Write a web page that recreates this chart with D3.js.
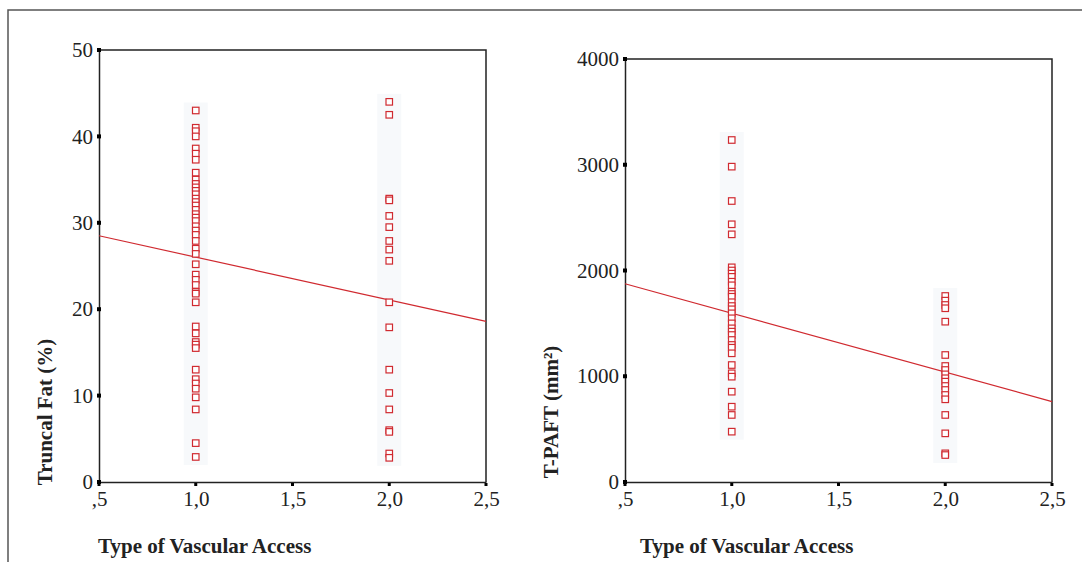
<!DOCTYPE html>
<html>
<head>
<meta charset="utf-8">
<script src="https://cdn.jsdelivr.net/npm/d3@7"></script>
<style>
  body { margin: 0; background: #fff; }
  svg text { font-family: "Liberation Serif", "DejaVu Serif", serif; }
  .tick text { font-size: 21px; fill: #222; }
  .axisTitle { font-size: 21px; font-weight: bold; fill: #222; }
</style>
</head>
<body>
<div id="chart"></div>
<script>
// x categories (type of vascular access) and tick labels
var xTicks = [0.5, 1.0, 1.5, 2.0, 2.5];
var xTickLabels = [",5", "1,0", "1,5", "2,0", "2,5"];

// left panel: truncal fat (%)
var fatTicks = [0, 10, 20, 30, 40, 50];
var fatAccess1 = [43.0, 41.0, 40.6, 40.0, 38.6, 38.0, 37.3, 35.8, 35.0, 34.5, 34.1, 33.7, 33.3,
	32.8, 32.4, 32.0, 31.5, 31.0, 30.6, 30.2, 29.6, 29.1, 28.6, 27.9, 27.0, 26.4, 25.2, 24.0,
	23.4, 22.8, 22.0, 21.8, 20.8, 18.0, 17.2, 16.2, 15.9, 15.5, 13.0, 11.9, 11.4, 10.8, 9.8,
	8.4, 4.5, 2.9];
var fatAccess2 = [44.0, 42.5, 32.8, 32.6, 30.8, 29.5, 27.9, 26.9, 25.6, 20.8, 17.9, 13.0, 10.3,
	8.4, 6.0, 5.8, 3.3, 2.8];
var fatFit = [28.5, 18.6]; // fitted value at x = 0,5 and x = 2,5

// right panel: T-PAFT (mm2)
var paftTicks = [0, 1000, 2000, 3000, 4000];
var paftAccess1 = [3234, 2982, 2657, 2437, 2342, 2030, 2000, 1970, 1940, 1894, 1860, 1800, 1778,
	1752, 1700, 1664, 1633, 1595, 1548, 1500, 1453, 1422, 1390, 1343, 1296, 1270, 1217, 1106,
	1028, 996, 854, 712, 634, 476];
var paftAccess2 = [1759, 1715, 1674, 1643, 1516, 1201, 1097, 1059, 1018, 981, 949, 908, 870,
	823, 782, 634, 460, 271, 255];
var paftFit = [1875, 760];

var width = 1082, height = 562;
var red = "#d02a30";

var svg = d3.select("#chart").append("svg")
	.attr("width", width)
	.attr("height", height);

// outer frame
svg.append("path")
	.attr("d", "M8,562 L8,10 L1082,10")
	.attr("fill", "none")
	.attr("stroke", "#555")
	.attr("stroke-width", 1.5);

var panels = [
	{ left: 99, right: 486, top: 50, bottom: 482, yMax: 50, yTicks: fatTicks,
	  groups: [fatAccess1, fatAccess2], fit: fatFit,
	  yTitle: "Truncal Fat (%)", yTitleX: 45, xTitleX: 98 },
	{ left: 625, right: 1052, top: 59, bottom: 482, yMax: 4000, yTicks: paftTicks,
	  groups: [paftAccess1, paftAccess2], fit: paftFit,
	  yTitle: "T-PAFT (mm\u00b2)", yTitleX: 551, xTitleX: 640 }
];

panels.forEach(function(p) {
	var x = d3.scaleLinear().domain([0.5, 2.5]).range([p.left, p.right]);
	var y = d3.scaleLinear().domain([0, p.yMax]).range([p.bottom, p.top]);

	var g = svg.append("g");

	// very faint halo behind the point columns
	p.groups.forEach(function(vals, i) {
		var cx = x(i + 1);
		var ext = d3.extent(vals);
		g.append("rect")
			.attr("x", cx - 12)
			.attr("y", y(ext[1]) - 8)
			.attr("width", 24)
			.attr("height", y(ext[0]) - y(ext[1]) + 16)
			.attr("fill", "#f7f9fb");
	});

	// box top / right
	g.append("path")
		.attr("d", "M" + p.left + "," + p.top + " L" + p.right + "," + p.top + " L" + p.right + "," + p.bottom)
		.attr("fill", "none")
		.attr("stroke", "#222")
		.attr("stroke-width", 1.5);

	// axes
	var yAxis = g.append("g")
		.attr("transform", "translate(" + p.left + ",0)")
		.call(d3.axisLeft(y).tickValues(p.yTicks).tickSize(0).tickPadding(6).tickFormat(d3.format("d")));
	var xAxis = g.append("g")
		.attr("transform", "translate(0," + p.bottom + ")")
		.call(d3.axisBottom(x).tickValues(xTicks).tickSize(0).tickPadding(9)
			.tickFormat(function(d, i) { return xTickLabels[i]; }));

	[yAxis, xAxis].forEach(function(a) {
		a.select(".domain").attr("stroke", "#222").attr("stroke-width", 1.5);
		a.selectAll(".tick line").remove();
	});

	// square tick marks
	g.selectAll(".ytm").data(p.yTicks).enter().append("rect")
		.attr("x", p.left - 2).attr("y", function(d) { return y(d) - 2; })
		.attr("width", 4).attr("height", 4).attr("fill", "#000");
	g.selectAll(".xtm").data(xTicks).enter().append("rect")
		.attr("x", function(d) { return x(d) - 1.5; }).attr("y", p.bottom + 1)
		.attr("width", 3).attr("height", 3).attr("fill", "#000");

	// regression line
	g.append("line")
		.attr("x1", x(0.5)).attr("y1", y(p.fit[0]))
		.attr("x2", x(2.5)).attr("y2", y(p.fit[1]))
		.attr("stroke", red)
		.attr("stroke-width", 1.2);

	// points
	p.groups.forEach(function(vals, i) {
		g.selectAll(".pt" + i).data(vals).enter().append("rect")
			.attr("x", x(i + 1) - 3.25)
			.attr("y", function(d) { return y(d) - 3.25; })
			.attr("width", 6.5)
			.attr("height", 6.5)
			.attr("fill", "#fff")
			.attr("stroke", red)
			.attr("stroke-width", 1.2);
	});

	// titles
	svg.append("text")
		.attr("class", "axisTitle")
		.attr("transform", "translate(" + (p.yTitleX + 7) + ",412) rotate(-90)")
		.attr("text-anchor", "middle")
		.text(p.yTitle);
	svg.append("text")
		.attr("class", "axisTitle")
		.attr("x", p.xTitleX)
		.attr("y", 553)
		.text("Type of Vascular Access");
});
</script>
</body>
</html>
